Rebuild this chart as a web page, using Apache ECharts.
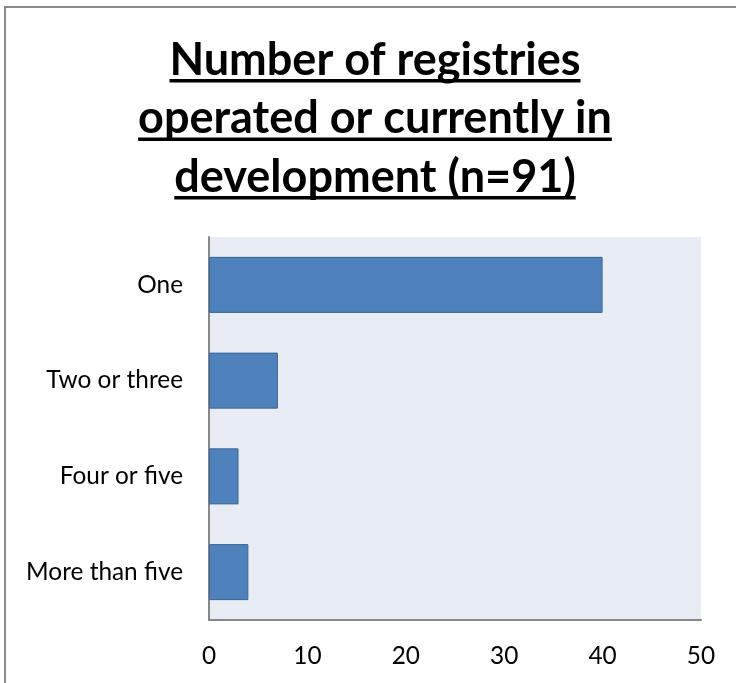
<!DOCTYPE html>
<html><head><meta charset="utf-8">
<script src="https://cdn.jsdelivr.net/npm/echarts@6/dist/echarts.min.js"></script>
<style>html,body{margin:0;padding:0;background:#fff}#c{width:736px;height:683px}</style>
</head><body><div id="c"></div>
<script>
// ---- data ----
const categories = ['One', 'Two or three', 'Four or five', 'More than five'];
const values = [40, 7, 3, 4];
const xMin = 0, xMax = 50, xStep = 10;
const titleLines = ['Number of registries', 'operated or currently in', 'development (n=91)'];

// ---- layout helpers ----
const FONT = 'Lato, "Open Sans", "Noto Sans", sans-serif';
const ctx = document.createElement('canvas').getContext('2d');
function measure(text, weight, size) { ctx.font = weight + ' ' + size + 'px ' + FONT; return ctx.measureText(text).width; }
// fit font sizes to the reference text widths
const titleSize = 100 * 474 / measure(titleLines[1], 'bold', 100);
const labelSize = 100 * 157 / measure('More than five', 'normal', 100);

const cx = 375;
const lineYs = [60, 118.5, 177];
const ulYs = [79, 137.5, 196];
const graphics = [{
  type: 'rect', silent: true, z: 0,
  shape: { x: 5, y: 7, width: 900, height: 900 },
  style: { fill: 'none', stroke: '#8a8a8a', lineWidth: 2 }
}];
titleLines.forEach((t, i) => {
  const w = measure(t, 'bold', titleSize);
  graphics.push({
    type: 'text', x: cx, y: lineYs[i], z: 10,
    style: { text: t, fill: '#000', font: 'bold ' + titleSize.toFixed(2) + 'px ' + FONT, textAlign: 'center', textVerticalAlign: 'middle' }
  });
  graphics.push({
    type: 'rect', z: 10, shape: { x: cx - w / 2, y: ulYs[i], width: w, height: 3.5 },
    style: { fill: '#000' }
  });
});

const chart = echarts.init(document.getElementById('c'), null, { renderer: 'canvas' });
chart.setOption({
  animation: false,
  backgroundColor: '#fff',
  graphic: graphics,
  grid: { left: 209, right: 35, top: 237, bottom: 63, show: true, backgroundColor: '#e8ecf4', borderWidth: 0, containLabel: false },
  xAxis: {
    type: 'value', min: xMin, max: xMax, interval: xStep,
    splitLine: { show: false },
    axisTick: { show: false },
    axisLine: { show: true, lineStyle: { color: '#888', width: 2 } },
    axisLabel: { color: '#000', fontFamily: FONT, fontSize: labelSize, margin: 24 }
  },
  yAxis: {
    type: 'category', data: categories, inverse: true,
    axisTick: { show: false },
    axisLine: { show: true, lineStyle: { color: '#888', width: 2 } },
    axisLabel: { color: '#000', fontFamily: FONT, fontSize: labelSize, margin: 26 }
  },
  series: [{
    type: 'bar', data: values, barCategoryGap: '41.5%',
    itemStyle: { color: '#4f81bd', borderColor: '#3b6594', borderWidth: 1 }
  }]
});
</script>
</body></html>
